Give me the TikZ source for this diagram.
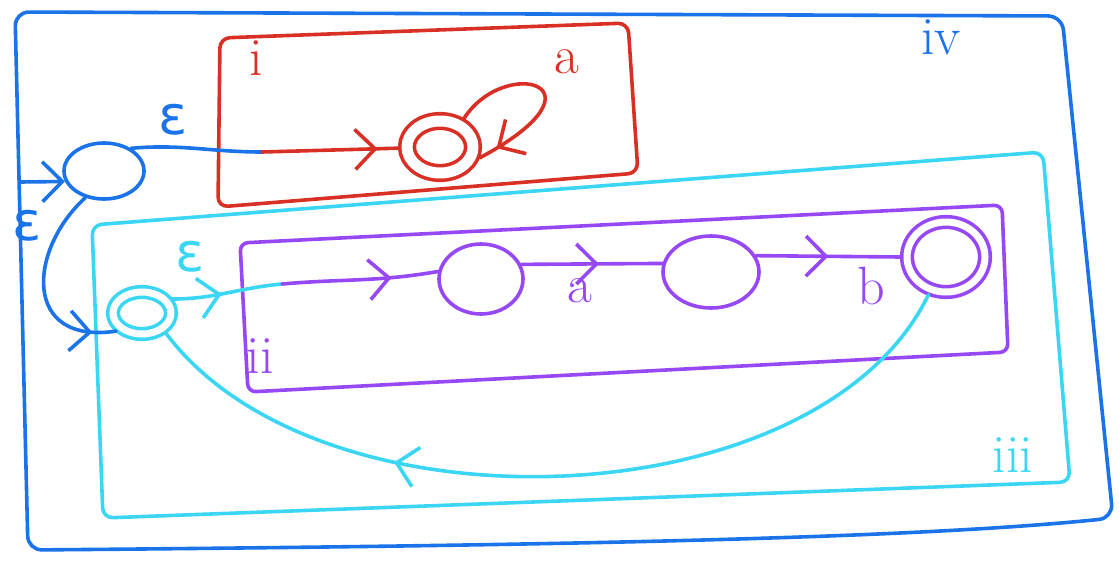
\documentclass[tikz,border=0pt]{standalone}
\usepackage{fontspec}
\newfontfamily\epsfont{DejaVu Sans}
\usetikzlibrary{arrows.meta,shapes.geometric,decorations.markings}
\definecolor{ivblue}{RGB}{26,115,232}
\definecolor{ired}{RGB}{217,48,37}
\definecolor{iiicyan}{RGB}{60,214,245}
\definecolor{iipurple}{RGB}{150,72,245}
\tikzset{
  st/.style={ellipse,draw,inner sep=0pt},
  acc/.style={st,double=white,outer sep=6pt},
  lbl/.style={inner sep=0pt,font=\fontsize{54}{54}\selectfont},
  barb/.tip={Straight Barb[length=20pt,width=40pt]},
  tipat/.style={postaction={decorate},decoration={markings,
      mark=at position #1 with {\arrow{barb}}}},
  every picture/.style={line cap=round,line join=round}}

\begin{document}
\begin{tikzpicture}[x=1pt,y=-1pt,line width=3.6pt]
  \useasboundingbox (0,0) rectangle (1119,565);
  % boxes iv, i, iii, ii
  \draw[ivblue,rounded corners=14pt] (15,12)--(1062,16)--(1113,518)
    .. controls (900,540) and (500,546) .. (28,550)--cycle;
  \draw[ired,rounded corners=10pt] (220,38)--(628,23)--(638,173)--(218,207)--cycle;
  \draw[iiicyan,rounded corners=10pt] (92,225)--(1043,152)--(1070,482)--(103,518)--cycle;
  \draw[iipurple,rounded corners=8pt] (240,243)--(1002,205)--(1008,352)--(248,392)--cycle;
  % states
  \node[st,ivblue,minimum width=80pt,minimum height=56pt] (q0) at (104,171){};
  \node[acc,ired,double distance=11pt,outer sep=9pt,minimum width=66pt,minimum height=52pt] (r0) at (440,147){};
  \node[acc,iiicyan,double distance=7pt,minimum width=58pt,minimum height=42pt] (c0) at (142,313){};
  \node[st,iipurple,minimum width=84pt,minimum height=70pt] (p1) at (481,279){};
  \node[st,iipurple,minimum width=96pt,minimum height=72pt] (p2) at (711,272){};
  \node[acc,iipurple,double distance=7pt,minimum width=78pt,minimum height=70pt] (p3) at (946,257){};
  \coordinate (init) at (20,182);
  \coordinate (rin) at (262,152);
  \coordinate (pin) at (282,284);
  % edges
  \draw[ivblue,-barb] (init) -- (q0.195);
  \draw[ivblue] (q0.40) to[out=5,in=180] (rin);
  \draw[ired,tipat=0.85] (rin) -- (r0);
  \draw[ired,tipat=0.9] (r0.50) .. controls (505,55) and (615,85) .. (r0.-15);
  \draw[ivblue,tipat=0.88] (q0.235) .. controls (28,250) and (22,345) .. (c0.215);
  \draw[iiicyan,tipat=0.45] (c0.25) to[out=0,in=185] (pin);
  \draw[iipurple,tipat=0.7] (pin) to[out=5,in=190] (p1.170);
  \draw[iipurple,tipat=0.55] (p1.20) -- (p2.170);
  \draw[iipurple,tipat=0.5] (p2.20) -- (p3.west);
  \draw[iiicyan,tipat=0.69] (p3.245) .. controls (820,520) and (320,540) .. (c0.-40);
  % labels
  \node[lbl,ivblue] (eps1) at (173,120) {\epsfont ε};
  \node[lbl,ivblue] (eps2) at (27,226) {\epsfont ε};
  \node[lbl,iiicyan] (eps3) at (190,257) {\epsfont ε};
  \node[lbl,ired] (la) at (567,62) {a};
  \node[lbl,ired] (ni) at (256,58) {i};
  \node[lbl,ivblue] (niv) at (941,37) {iv};
  \node[lbl,iiicyan] (niii) at (1013,455) {iii};
  \node[lbl,iipurple] (nii) at (260,356) {ii};
  \node[lbl,iipurple] (pa) at (580,291) {a};
  \node[lbl,iipurple] (pb) at (871,286) {b};
\end{tikzpicture}
\end{document}
